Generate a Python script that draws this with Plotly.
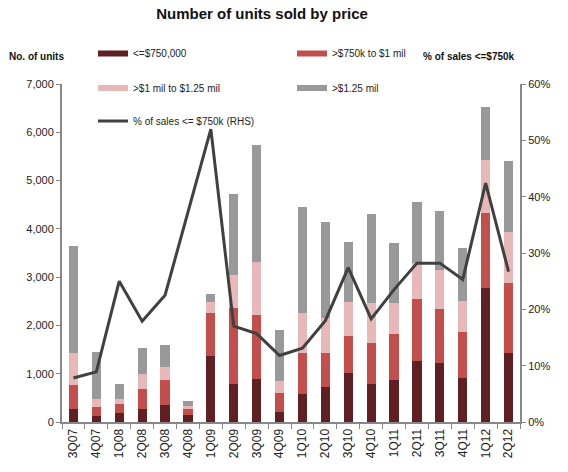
import plotly.graph_objects as go

quarters = ["3Q07", "4Q07", "1Q08", "2Q08", "3Q08", "4Q08", "1Q09", "2Q09", "3Q09", "4Q09",
            "1Q10", "2Q10", "3Q10", "4Q10", "1Q11", "2Q11", "3Q11", "4Q11", "1Q12", "2Q12"]

units_le_750k = [263, 125, 187, 263, 346, 139, 1369, 789, 886, 207,
                 575, 726, 1010, 789, 865, 1266, 1224, 906, 2768, 1425]
units_750k_1m = [498, 186, 194, 415, 519, 131, 892, 1570, 1334, 395,
                 857, 699, 774, 850, 955, 1280, 1106, 955, 1568, 1459]
units_1m_125m = [658, 160, 104, 312, 276, 70, 216, 691, 1087, 257,
                 823, 733, 699, 830, 649, 740, 817, 643, 1093, 1058]
units_gt_125m = [2221, 981, 311, 545, 457, 89, 179, 1668, 2427, 1043,
                 2199, 1985, 1245, 1846, 1232, 1272, 1231, 1093, 1092, 1467]
pct_le_750k = [0.078, 0.089, 0.250, 0.179, 0.225, 0.372, 0.520, 0.170, 0.157, 0.118,
               0.131, 0.180, 0.274, 0.183, 0.235, 0.282, 0.282, 0.253, 0.424, 0.267]

left_ticks = [0, 1000, 2000, 3000, 4000, 5000, 6000, 7000]
right_ticks = [0, 0.1, 0.2, 0.3, 0.4, 0.5, 0.6]

bar_series = [
    ("<=$750,000", units_le_750k, "#601f22"),
    (">$750k to $1 mil", units_750k_1m, "#c34f4d"),
    (">$1 mil to $1.25 mil", units_1m_125m, "#e8b7b7"),
    (">$1.25 mil", units_gt_125m, "#999999"),
]
line_name = "% of sales <= $750k (RHS)"
line_color = "#404040"

W, H = 568, 472
L, R, T, B = 62, 48, 84, 50
PW, PH = W - L - R, H - T - B

fig = go.Figure()
for name, vals, col in bar_series:
    fig.add_trace(go.Bar(x=quarters, y=vals, name=name, marker=dict(color=col, line=dict(width=0)),
                         showlegend=False))
fig.add_trace(go.Scatter(x=quarters, y=pct_le_750k, name=line_name, yaxis="y2", mode="lines",
                         line=dict(color=line_color, width=3), showlegend=False))

# legend entries (thick short lines, like the reference swatches)
legend_pos = [(99, 53.5), (298, 53.5), (99, 88), (298, 88)]
for i, (name, vals, col) in enumerate(bar_series):
    lg = "legend" if i == 0 else f"legend{i+1}"
    fig.add_trace(go.Scatter(x=[quarters[0]], y=[None], mode="lines", name=name,
                             line=dict(color=col, width=6), legend=lg, showlegend=True,
                             hoverinfo="skip"))
fig.add_trace(go.Scatter(x=[quarters[0]], y=[None], mode="lines", name=line_name,
                         line=dict(color=line_color, width=3), legend="legend5", showlegend=True,
                         hoverinfo="skip"))
legend_pos.append((99, 121))

legends = {}
for i, (px, py) in enumerate(legend_pos):
    key = "legend" if i == 0 else f"legend{i+1}"
    legends[key] = dict(xref="container", yref="container",
                        x=(px - 6) / W, y=1 - py / H,
                        xanchor="left", yanchor="middle", bgcolor="rgba(0,0,0,0)",
                        font=dict(size=10, color="#222222", family="Liberation Sans, Arial, sans-serif"),
                        itemwidth=30, borderwidth=0)

axis_gray = "#888888"
fig.update_layout(
    width=W, height=H,
    margin=dict(l=L, r=R, t=T, b=B, pad=0, autoexpand=False),
    paper_bgcolor="white", plot_bgcolor="white",
    barmode="stack", bargap=0.6,
    font=dict(family="Liberation Sans, Arial, sans-serif", size=11, color="#222222"),
    title=dict(text="<b>Number of units sold by price</b>", x=262 / W, y=1 - 14 / H,
               xanchor="center", yanchor="middle", font=dict(size=15, color="#111111")),
    xaxis=dict(type="category", categoryorder="array", categoryarray=quarters,
               showline=True, linecolor=axis_gray, linewidth=2,
               ticks="outside", tickson="boundaries", ticklen=5, tickcolor=axis_gray,
               tickangle=-90, tickfont=dict(size=12), showgrid=False, zeroline=False,
               range=[-0.5, len(quarters) - 0.5]),
    yaxis=dict(range=[0, 7000], tickvals=left_ticks, tickformat=",", showline=True,
               linecolor=axis_gray, linewidth=2, ticks="outside", ticklen=4, tickcolor=axis_gray,
               showgrid=False, zeroline=False, tickfont=dict(size=11)),
    yaxis2=dict(range=[0, 0.6], tickvals=right_ticks, tickformat=".0%", overlaying="y",
                side="right", showline=True, linecolor=axis_gray, linewidth=2, ticks="outside",
                ticklen=4, tickcolor=axis_gray, showgrid=False, zeroline=False,
                tickfont=dict(size=11)),
    **legends,
)

fig.add_annotation(text="<b>No. of units</b>", xref="paper", yref="paper",
                   x=(36 - L) / PW, y=(H - B - 57) / PH, showarrow=False,
                   xanchor="center", yanchor="middle", font=dict(size=10, color="#111111"))
fig.add_annotation(text="<b>% of sales <=$750k</b>", xref="paper", yref="paper",
                   x=(469 - L) / PW, y=(H - B - 56) / PH, showarrow=False,
                   xanchor="center", yanchor="middle", font=dict(size=10, color="#111111"))

# remove the default 8px page margin so the figure fills the window exactly
fig.write_html("out.html", config={"displayModeBar": False},
               post_script="document.body.style.margin='0px';")
